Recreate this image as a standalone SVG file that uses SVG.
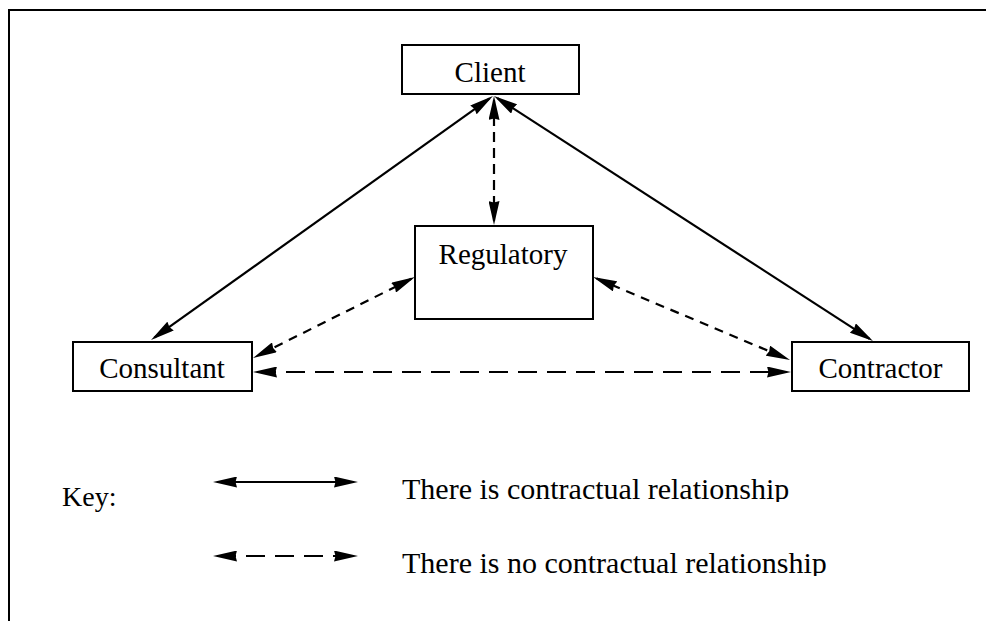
<svg xmlns="http://www.w3.org/2000/svg" width="986" height="621" viewBox="0 0 986 621">
  <style>
    .box { fill: #fff; stroke: #000; stroke-width: 2; }
    .lbl { font-family: "Liberation Serif", "Times New Roman", serif; font-size: 29px; fill: #000; }
    .key { font-family: "Liberation Serif", "Times New Roman", serif; font-size: 30px; fill: #000; }
    .link { fill: none; stroke: #000; stroke-width: 2.2; marker-start: url(#head); marker-end: url(#head); }
    .short { stroke-dasharray: 9 7; }
    .vert { stroke-dasharray: 10 6; }
    .long { stroke-dasharray: 19 10; }
  </style>
  <defs>
    <!-- filled triangular arrowhead, used at both ends of every connector -->
    <marker id="head" markerUnits="userSpaceOnUse" markerWidth="24" markerHeight="11" viewBox="0 0 24 11" refX="20" refY="5.5" orient="auto-start-reverse">
      <path d="M0,0 L24,5.5 L0,11 L1.5,5.5 Z" fill="#000"/>
    </marker>
    <clipPath id="clipKey1"><rect x="380" y="450" width="500" height="52"/></clipPath>
    <clipPath id="clipKey2"><rect x="380" y="530" width="500" height="46"/></clipPath>
  </defs>

  <!-- outer frame -->
  <rect x="9" y="10" width="1000" height="700" fill="none" stroke="#000" stroke-width="2"/>

  <!-- connectors -->
  <g id="connectors">
    <line class="link" x1="489.7" y1="98.3" x2="154.3" y2="337.7"/>
    <line class="link" x1="497.4" y1="98.2" x2="869.6" y2="338.8"/>
    <line class="link vert" x1="494" y1="100" x2="494" y2="221"/>
    <line class="link short" x1="411.4" y1="278.8" x2="256.6" y2="356.2"/>
    <line class="link short" x1="596.7" y1="278.6" x2="786.3" y2="358.4"/>
    <line class="link long" x1="257" y1="372" x2="787" y2="372"/>
  </g>

  <!-- nodes -->
  <g id="client">
    <rect class="box" x="402" y="45" width="177" height="49"/>
    <text class="lbl" x="490" y="82" text-anchor="middle">Client</text>
  </g>
  <g id="regulatory">
    <rect class="box" x="415" y="226" width="178" height="93"/>
    <text class="lbl" x="503" y="264" text-anchor="middle">Regulatory</text>
  </g>
  <g id="consultant">
    <rect class="box" x="73" y="342" width="179" height="49"/>
    <text class="lbl" x="162" y="378" text-anchor="middle">Consultant</text>
  </g>
  <g id="contractor">
    <rect class="box" x="792" y="342" width="177" height="49"/>
    <text class="lbl" x="880.5" y="378" text-anchor="middle">Contractor</text>
  </g>

  <!-- key -->
  <g id="key">
    <text class="lbl" x="62" y="506" style="font-size:28px">Key:</text>
    <line class="link" x1="217" y1="482" x2="354" y2="482"/>
    <line class="link long" x1="217" y1="556" x2="354" y2="556"/>
    <text class="key" x="402" y="499" clip-path="url(#clipKey1)">There is contractual relationship</text>
    <text class="key" x="402" y="573" clip-path="url(#clipKey2)">There is no contractual relationship</text>
  </g>
</svg>
